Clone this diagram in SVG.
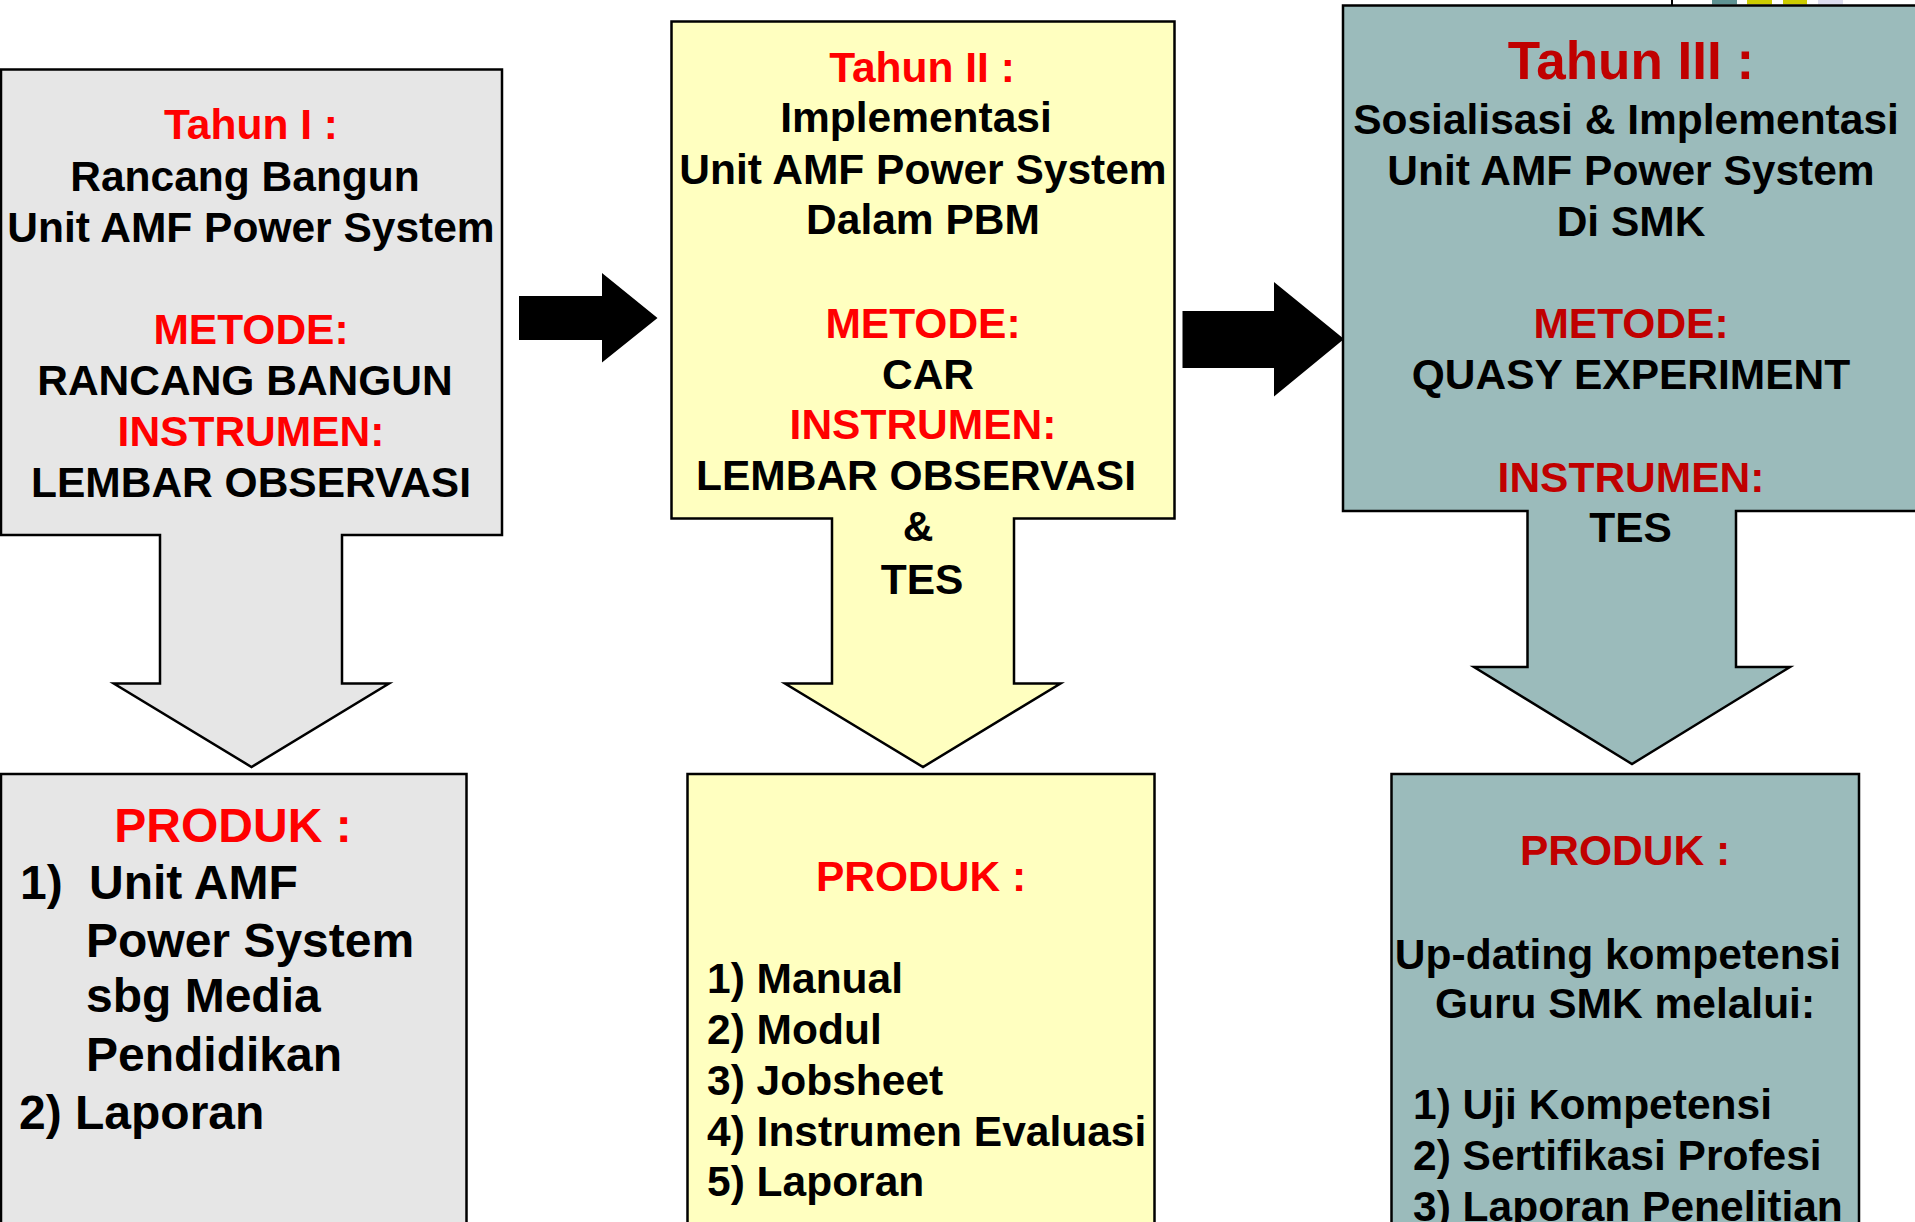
<svg xmlns="http://www.w3.org/2000/svg" width="1915" height="1222" viewBox="0 0 1915 1222">
  <style>
    .t { font-family: "Liberation Sans", Arial, sans-serif; font-weight: bold; font-size: 42.5px; fill: #000; }
    .c { text-anchor: middle; }
    .r1 { fill: #FF0000; }
    .r3 { fill: #C00000; }
    .gray { fill: #E6E6E6; stroke: #000; stroke-width: 2.5; }
    .yel { fill: #FFFFC0; stroke: #000; stroke-width: 2.5; }
    .teal { fill: #9BBBBB; stroke: #000; stroke-width: 2.5; }
    .big { font-size: 48px; }
  </style>

  <!-- fragments at top right -->
  <g id="top-fragments">
    <line x1="1672" y1="0" x2="1672" y2="6" stroke="#000" stroke-width="2"/>
    <rect x="1712" y="0" width="25" height="4.5" fill="#5F9393"/>
    <rect x="1747" y="0" width="25" height="4.5" fill="#CCCC00"/>
    <rect x="1783" y="0" width="24" height="4.5" fill="#CCCC00"/>
    <rect x="1818" y="0" width="25" height="4.5" fill="#DDDDEE"/>
  </g>

  <g id="connectors">
    <path d="M519,296 H602 V273 L657.5,318 L602,362.5 V340 H519 Z" fill="#000"/>
    <path d="M1182.5,311 H1274 V282 L1344,339 L1274,396.5 V368 H1182.5 Z" fill="#000"/>
  </g>

  <g id="tahun1">
    <path class="gray" d="M1,69.6 H502 V535 H342 V683.5 H389 L251.5,767 L113.8,683.5 H160 V535 H1 Z"/>
    <text class="t c r1" x="251" y="138.6">Tahun I :</text>
    <text class="t c" x="245" y="191">Rancang Bangun</text>
    <text class="t c" x="251" y="242">Unit AMF Power System</text>
    <text class="t c r1" x="251" y="343.6">METODE:</text>
    <text class="t c" x="245" y="394.6">RANCANG BANGUN</text>
    <text class="t c r1" x="251" y="446.4">INSTRUMEN:</text>
    <text class="t c" x="251" y="497">LEMBAR OBSERVASI</text>
  </g>

  <g id="tahun2">
    <path class="yel" d="M671.5,21.5 H1174.5 V518.5 H1014 V683.5 H1060.5 L923,767 L785,683.5 H832 V518.5 H671.5 Z"/>
    <text class="t c r1" x="922" y="82">Tahun II :</text>
    <text class="t c" x="916" y="132">Implementasi</text>
    <text class="t c" x="923" y="184">Unit AMF Power System</text>
    <text class="t c" x="923" y="234">Dalam PBM</text>
    <text class="t c r1" x="923" y="337.5">METODE:</text>
    <text class="t c" x="928" y="388.6">CAR</text>
    <text class="t c r1" x="923" y="439">INSTRUMEN:</text>
    <text class="t c" x="916" y="490">LEMBAR OBSERVASI</text>
    <text class="t c" x="918" y="540.5">&amp;</text>
    <text class="t c" x="922" y="594.4">TES</text>
  </g>

  <g id="tahun3">
    <path class="teal" d="M1343,5.5 H1920 V511 H1736 V667 H1790 L1632,764 L1474,667 H1527.5 V511 H1343 Z"/>
    <text class="t c r3" x="1631" y="79.3" style="font-size:53px">Tahun III :</text>
    <text class="t c" x="1626" y="134">Sosialisasi &amp; Implementasi</text>
    <text class="t c" x="1631" y="185">Unit AMF Power System</text>
    <text class="t c" x="1631" y="235.7">Di SMK</text>
    <text class="t c r3" x="1631" y="337.5">METODE:</text>
    <text class="t c" x="1631" y="389">QUASY EXPERIMENT</text>
    <text class="t c r3" x="1631" y="492">INSTRUMEN:</text>
    <text class="t c" x="1630.5" y="542">TES</text>
  </g>

  <g id="produk1">
    <rect class="gray" x="1" y="774" width="465.5" height="460"/>
    <text class="t big c r1" x="233" y="841.7">PRODUK :</text>
    <text class="t big" x="20" y="898.6">1)</text>
    <text class="t big" x="89" y="898.6">Unit AMF</text>
    <text class="t big" x="86" y="957">Power System</text>
    <text class="t big" x="86" y="1012">sbg Media</text>
    <text class="t big" x="86" y="1071">Pendidikan</text>
    <text class="t big" x="19" y="1129">2) Laporan</text>
  </g>

  <g id="produk2">
    <rect class="yel" x="687.5" y="774" width="467" height="460"/>
    <text class="t c r1" x="921" y="890.5">PRODUK :</text>
    <text class="t" x="707" y="993">1) Manual</text>
    <text class="t" x="707" y="1043.5">2) Modul</text>
    <text class="t" x="707" y="1095">3) Jobsheet</text>
    <text class="t" x="707" y="1145.6">4) Instrumen Evaluasi</text>
    <text class="t" x="707" y="1196">5) Laporan</text>
  </g>

  <g id="produk3">
    <rect class="teal" x="1391.5" y="774" width="467.5" height="460"/>
    <text class="t c r3" x="1625" y="865">PRODUK :</text>
    <text class="t c" x="1618" y="968.8">Up-dating kompetensi</text>
    <text class="t c" x="1625" y="1018">Guru SMK melalui:</text>
    <text class="t" x="1413" y="1119.4">1) Uji Kompetensi</text>
    <text class="t" x="1413" y="1170">2) Sertifikasi Profesi</text>
    <text class="t" x="1413" y="1220.6">3) Laporan Penelitian</text>
  </g>
</svg>
